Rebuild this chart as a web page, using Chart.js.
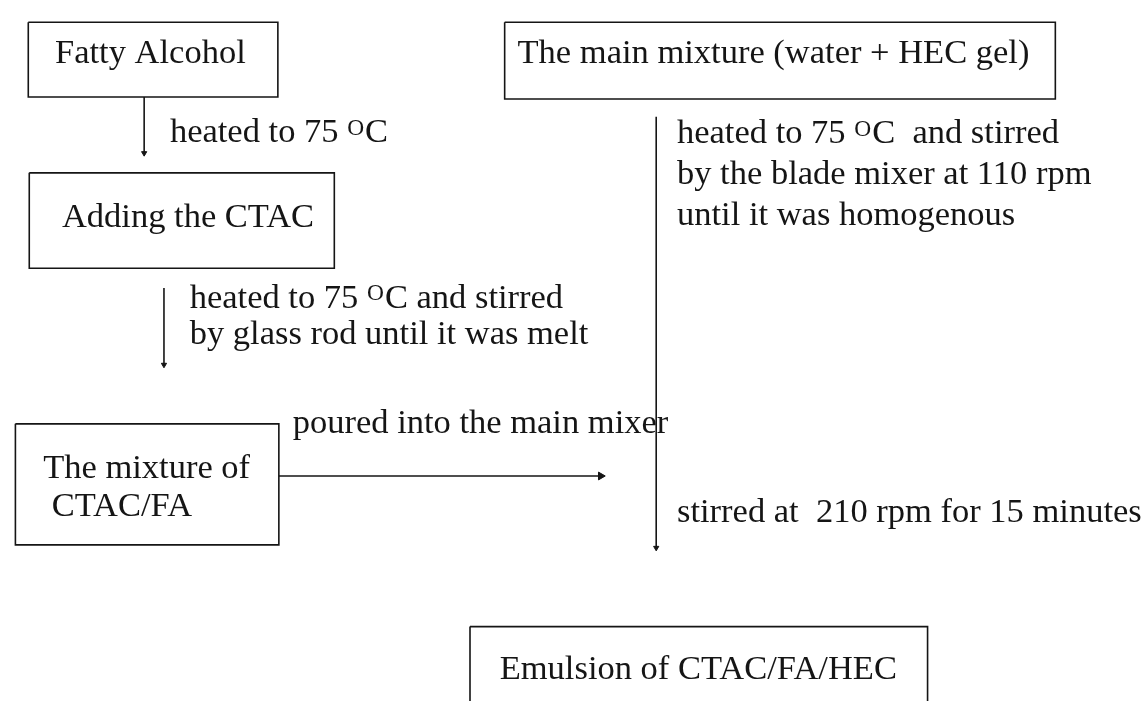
<!DOCTYPE html>
<html>
<head>
<meta charset="utf-8">
<title>CTAC/FA/HEC emulsion preparation</title>
<script src="https://cdn.jsdelivr.net/npm/chart.js@4.4.1/dist/chart.umd.min.js"></script>
<style>
  html, body { margin: 0; padding: 0; background: #fff; }
  canvas { display: block; }
</style>
</head>
<body>
<canvas id="flow" width="1147" height="701"></canvas>
<script>
// step boxes (text lines, "^O" = raised small O)
const boxLabels = [
    ['Fatty Alcohol'],
    ['Adding the CTAC'],
    ['The mixture of', ' CTAC/FA'],
    ['The main mixture (water + HEC gel)'],
    ['Emulsion of CTAC/FA/HEC']
];
// labels along the arrows
const arrowLabels = [
    ['heated to 75 ^OC'],
    ['heated to 75 ^OC and stirred', 'by glass rod until it was melt'],
    ['poured into the main mixer'],
    ['heated to 75 ^OC  and stirred', 'by the blade mixer at 110 rpm', 'until it was homogenous'],
    ['stirred at  210 rpm for 15 minutes']
];

// layout, in canvas units (x right, y down)
const boxX0 = [23, 24, 10, 504, 469];
const boxY0 = [17, 170, 425, 17, 631];
const boxX1 = [275, 332, 276, 1060, 931];
const boxY1 = [93, 267, 548, 95, 730];
const boxTextX = [50, 57, 38, 517, 499];
const boxTextY = [58, 225, 480, 58, 684];

const arrowFrom = [[140, 93], [160, 287], [276, 478], [657, 113]];
const arrowTo = [[140, 150], [160, 365], [601, 478], [657, 551]];
const arrowLabelX = [166, 186, 290, 678, 678];
const arrowLabelY = [139, 307, 434, 140, 525];

const ink = '#151515';
const fontSize = 34.5;
const fontFamily = '"Liberation Serif", "Times New Roman", serif';
const lineGap = 39;

const datasets = [];
boxX0.forEach((x0, i) => {
    datasets.push({
        data: [
            { x: x0, y: boxY0[i] }, { x: boxX1[i], y: boxY0[i] },
            { x: boxX1[i], y: boxY1[i] }, { x: x0, y: boxY1[i] },
            { x: x0, y: boxY0[i] }
        ],
        showLine: true,
        clip: false,
        borderColor: ink,
        borderWidth: 1.6,
        pointRadius: 0,
        tension: 0
    });
});
arrowFrom.forEach((from, i) => {
    const horizontal = from[1] === arrowTo[i][1];
    datasets.push({
        data: [{ x: from[0], y: from[1] }, { x: arrowTo[i][0], y: arrowTo[i][1] }],
        showLine: true,
        borderColor: ink,
        borderWidth: 1.6,
        pointStyle: 'triangle',
        pointRotation: horizontal ? 90 : 180,
        pointRadius: [0, horizontal ? 4.5 : 3],
        pointBackgroundColor: ink,
        pointBorderColor: ink,
        pointBorderWidth: 1
    });
});

// draws a line of text, with "^O" as a small raised O
function richText(ctx, text, x, y) {
    const parts = text.split('^O');
    let cx = x;
    parts.forEach((part, k) => {
        if (k > 0) {
            ctx.font = (fontSize * 0.68) + 'px ' + fontFamily;
            ctx.fillText('O', cx, y - fontSize * 0.22);
            cx += ctx.measureText('O').width + 1;
        }
        ctx.font = fontSize + 'px ' + fontFamily;
        ctx.fillText(part, cx, y);
        cx += ctx.measureText(part).width;
    });
}

const textPlugin = {
    id: 'flowText',
    afterDatasetsDraw(chart) {
        const ctx = chart.ctx;
        const xs = chart.scales.x;
        const ys = chart.scales.y;
        ctx.save();
        ctx.fillStyle = ink;
        ctx.textBaseline = 'alphabetic';
        ctx.textAlign = 'left';
        boxLabels.forEach((lines, i) => {
            lines.forEach((t, j) => {
                richText(ctx, t, xs.getPixelForValue(boxTextX[i]), ys.getPixelForValue(boxTextY[i] + j * lineGap));
            });
        });
        arrowLabels.forEach((lines, i) => {
            const gap = i === 1 ? 37 : 41.5;
            lines.forEach((t, j) => {
                richText(ctx, t, xs.getPixelForValue(arrowLabelX[i]), ys.getPixelForValue(arrowLabelY[i] + j * gap));
            });
        });
        ctx.restore();
    }
};

new Chart(document.getElementById('flow'), {
    type: 'scatter',
    data: { datasets: datasets },
    options: {
        responsive: false,
        animation: false,
        layout: { padding: 0 },
        plugins: { legend: { display: false }, tooltip: { enabled: false } },
        scales: {
            x: { type: 'linear', min: 0, max: 1147, display: false },
            y: { type: 'linear', min: 0, max: 701, reverse: true, display: false }
        }
    },
    plugins: [textPlugin]
});
</script>
</body>
</html>
